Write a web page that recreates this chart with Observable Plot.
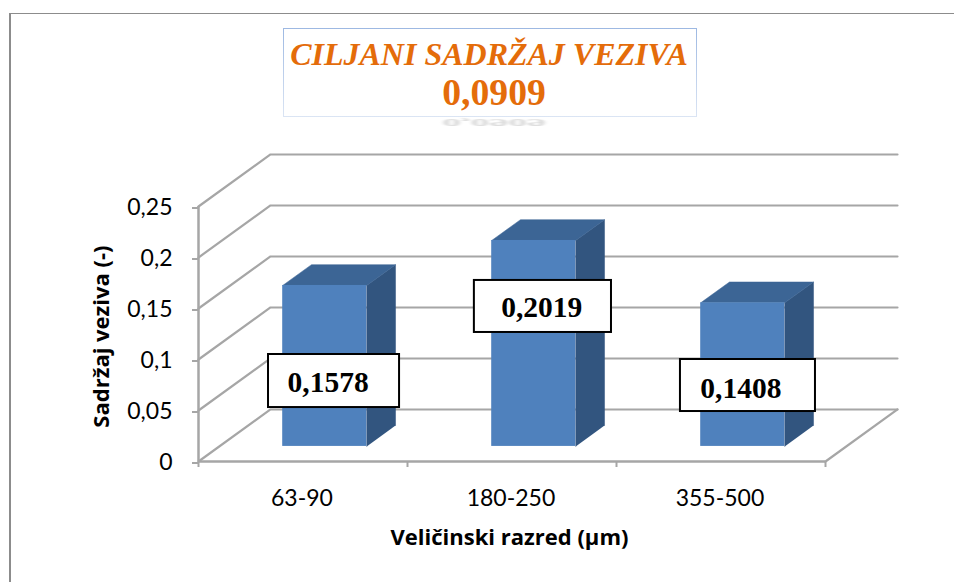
<!DOCTYPE html>
<html>
<head>
<meta charset="utf-8">
<script src="https://cdn.jsdelivr.net/npm/d3@7"></script>
<script src="https://cdn.jsdelivr.net/npm/@observablehq/plot@0.6"></script>
<style>
  html, body { margin: 0; padding: 0; background: #fff; width: 956px; height: 582px; overflow: hidden; }
  #chart { position: relative; width: 956px; height: 582px; }
  #chart svg { position: absolute; left: 0; top: 0; background: transparent; }
  #frame { position: absolute; left: 9px; top: 13px; right: 2px; bottom: 0; border-top: 1.5px solid #8c8c8c; border-left: 2px solid #8c8c8c; box-sizing: border-box; }
  #titlebox { position: absolute; left: 283px; top: 28px; width: 414px; height: 89px; box-sizing: border-box;
    border: 1.5px solid; border-image: linear-gradient(#9db8e2, #dbe5f4) 1; }
  .t { position: absolute; left: 283px; width: 412px; text-align: center; white-space: nowrap; color: #e46c0a;
    font-family: "Liberation Serif", serif; font-weight: bold; }
  #t1 { top: 36px; font-size: 32px; font-style: italic; line-height: 36px; }
  #t2 { top: 71px; left: 288px; font-size: 37.7px; line-height: 42px; }
  #t3 { top: 102px; left: 288px; font-size: 37.7px; line-height: 42px; color: #777; opacity: .28; filter: blur(2.2px); transform: scaleY(-.3); }
</style>
</head>
<body>
<div id="chart">
  <div id="frame"></div>
</div>
<script>
const categories = ["63-90", "180-250", "355-500"];
const values = [0.1578, 0.2019, 0.1408];
const valueLabels = ["0,1578", "0,2019", "0,1408"];
const yTicks = [0, 0.05, 0.1, 0.15, 0.2, 0.25];
const yTickLabels = ["0", "0,05", "0,1", "0,15", "0,2", "0,25"];
const xEdges = [0, 1, 2, 3];
const xTitle = "Veličinski razred (µm)";
const yTitle = "Sadržaj veziva (-)";

// Oblique projection of the 3-D frame, expressed in data units
const depthX = 0.3445, depthY = 0.051;
const project = (x, y, z) => ({x: x + z * depthX, y: y + z * depthY});

const grid = "#a6a6a6", front = "#4f81bd", top_ = "#3c6595", side = "#32557f";
const sansFont = "Lato, Carlito, sans-serif", boldFont = "'Open Sans', sans-serif", serifFont = "'Liberation Serif', serif";

// Gridlines on the side and back walls
const wallLines = yTicks.flatMap((t, i) => [
  {...project(0, t, 0), k: i}, {...project(0, t, 1), k: i}, {...project(3, t, 1), k: i}
]);
const floorEdge = [project(3, 0, 1), project(3, 0, 0)];

// Bars
const halfW = 0.201, z0 = 0.29, z1 = 0.69, shift = 0.004;
const bars = categories.map((c, i) => {
  const xa = i + 0.5 + shift - halfW, xb = i + 0.5 + shift + halfW, v = values[i];
  return {c, i, v,
    front: [project(xa, 0, z0), project(xb, v, z0)],
    top: [project(xa, v, z0), project(xa, v, z1), project(xb, v, z1), project(xb, v, z0)].map(p => ({...p, c})),
    side: [project(xb, 0, z0), project(xb, v, z0), project(xb, v, z1), project(xb, 0, z1)].map(p => ({...p, c}))
  };
});

// Label boxes are placed by hand in the chart, like in the original
const boxes = [
  {x1: 0.335, x2: 0.962, y1: 0.0529, y2: 0.1049, tx: 0.426, ty: 0.0775},
  {x1: 1.32, x2: 1.976, y1: 0.1265, y2: 0.1775, tx: 1.448, ty: 0.1505},
  {x1: 2.306, x2: 2.952, y1: 0.049, y2: 0.1, tx: 2.401, ty: 0.0715}
].map((b, i) => ({...b, label: valueLabels[i]}));

const plot = Plot.plot({
  width: 956, height: 582,
  marginLeft: 198, marginRight: 131, marginTop: 206, marginBottom: 121,
  style: {background: "transparent", overflow: "visible"},
  x: {domain: [0, 3]},
  y: {domain: [0, 0.25]},
  marks: [
    Plot.line(wallLines, {x: "x", y: "y", z: "k", stroke: grid, strokeWidth: 2.2}),
    Plot.line(floorEdge, {x: "x", y: "y", stroke: grid, strokeWidth: 2.2}),

    Plot.line(bars.flatMap(b => b.side), {x: "x", y: "y", z: "c", fill: side, stroke: side, strokeWidth: 0.5}),
    Plot.line(bars.flatMap(b => b.top), {x: "x", y: "y", z: "c", fill: top_, stroke: top_, strokeWidth: 0.5}),
    Plot.rect(bars, {x1: b => b.front[0].x, x2: b => b.front[1].x, y1: b => b.front[0].y, y2: b => b.front[1].y, fill: front}),

    Plot.ruleY([0], {stroke: grid, strokeWidth: 2.5}),
    Plot.ruleX([0], {stroke: grid, strokeWidth: 2.5}),
    Plot.axisY({ticks: yTicks, tickFormat: t => yTickLabels[yTicks.indexOf(t)], tickSize: 6, stroke: grid, strokeWidth: 2, dy: 1.5,
      fontSize: 23, fontFamily: sansFont, color: "#000", fill: "#000", tickPadding: 20, label: null}),
    Plot.axisX({ticks: xEdges, tickFormat: () => "", tickSize: 6, stroke: grid, strokeWidth: 2, label: null}),
    Plot.text(categories, {x: (d, i) => i + 0.5 - 0.005, y: 0, dy: 37, text: d => d, fontSize: 23, fontFamily: sansFont, fill: "#000"}),
    Plot.text([xTitle], {x: 1.488, y: 0, dy: 76, text: d => d, fontSize: 22, fontWeight: "bold", fontFamily: boldFont, fill: "#000"}),
    Plot.text([yTitle], {x: 0, y: 0.1225, dx: -97, rotate: -90, text: d => d, fontSize: 22, fontWeight: "bold", fontFamily: boldFont, fill: "#000"}),

    Plot.rect(boxes, {x1: "x1", x2: "x2", y1: "y1", y2: "y2", fill: "#fff", stroke: "#000", strokeWidth: 2}),
    Plot.text(boxes, {x: "tx", y: "ty", text: "label", textAnchor: "start", fontSize: 29.5, fontWeight: "bold", fontFamily: serifFont, fill: "#000"})
  ]
});

const chart = document.getElementById("chart");
chart.appendChild(plot);
for (const [id, text] of [["titlebox", ""], ["t3", "0,0909"], ["t1", "CILJANI SADRŽAJ VEZIVA"], ["t2", "0,0909"]]) {
  const d = document.createElement("div");
  d.id = id; if (id !== "titlebox") d.className = "t";
  d.textContent = text;
  chart.appendChild(d);
}
</script>
</body>
</html>
